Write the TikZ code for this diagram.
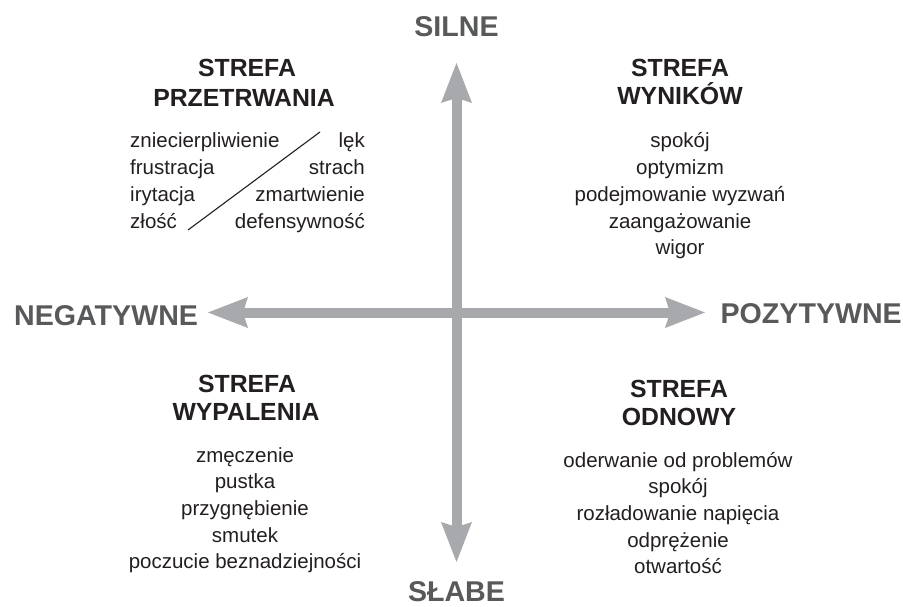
\documentclass[tikz,border=0pt]{standalone}
\usepackage{fontspec}
\setmainfont{Liberation Sans}
\usetikzlibrary{arrows.meta}
\definecolor{axisgray}{HTML}{A7A9AC}
\definecolor{labelgray}{HTML}{58595B}
\definecolor{ink}{HTML}{231F20}
\begin{document}
\begin{tikzpicture}[x=1pt,y=-1pt,
  axislabel/.style={font=\fontsize{28.6}{30}\selectfont\bfseries, text=labelgray, inner sep=0pt, anchor=base},
  zonetitle/.style={font=\fontsize{24.8}{26}\selectfont\bfseries, text=ink, inner sep=0pt, anchor=base},
  zoneitem/.style={font=\fontsize{20.5}{24}\selectfont, text=ink, inner sep=0pt, anchor=base},
  axisarrow/.style={draw=axisgray, line width=10pt, {Stealth[length=40pt,width=31pt,inset=5pt,line width=0pt]}-{Stealth[length=40pt,width=31pt,inset=5pt,line width=0pt]}},
  slash/.style={draw=ink, line width=1.1pt}]
\useasboundingbox (0,0) rectangle (903,607);
\fill[white] (0,0) rectangle (903,607);

% axes
\coordinate (top) at (456.5,63);
\coordinate (bottom) at (456.5,562);
\coordinate (left) at (208,312.5);
\coordinate (right) at (705,312.5);
\draw[axisarrow] (left) -- (right);
\draw[axisarrow] (bottom) -- (top);

% axis labels
\node[axislabel] (silne) at (456.5,37) {SILNE};
\node[axislabel] (slabe) at (456.5,601) {SŁABE};
\node[axislabel, anchor=base west] (neg) at (14,325) {NEGATYWNE};
\node[axislabel, anchor=base east] (poz) at (902,323) {POZYTYWNE};

% zone titles
\node[zonetitle] (tl1) at (247,77) {STREFA};
\node[zonetitle] (tl2) at (244,107) {PRZETRWANIA};
\node[zonetitle] (tr1) at (680,77) {STREFA};
\node[zonetitle] (tr2) at (680,105) {WYNIKÓW};
\node[zonetitle] (bl1) at (247,392) {STREFA};
\node[zonetitle] (bl2) at (246,420) {WYPALENIA};
\node[zonetitle] (br1) at (679,397) {STREFA};
\node[zonetitle] (br2) at (679,425) {ODNOWY};

% top-left: two columns
\foreach \t [count=\i from 0] in {zniecierpliwienie, frustracja, irytacja, złość}
  \node[zoneitem, anchor=base west] (prl\i) at (130,148+26.67*\i) {\t};
\foreach \t [count=\i from 0] in {lęk, strach, zmartwienie, defensywność}
  \node[zoneitem, anchor=base east] (prr\i) at (365,148+26.67*\i) {\t};
\coordinate (d1) at (188,230);
\coordinate (d2) at (320,132);
\draw[slash] (d1) -- (d2);

% top-right
\foreach \t [count=\i from 0] in {spokój, optymizm, podejmowanie wyzwań, zaangażowanie, wigor}
  \node[zoneitem] (wyn\i) at (680,148+26.67*\i) {\t};

% bottom-left
\foreach \t [count=\i from 0] in {zmęczenie, pustka, przygnębienie, smutek, poczucie beznadziejności}
  \node[zoneitem] (wyp\i) at (245,462+26.67*\i) {\t};

% bottom-right
\foreach \t [count=\i from 0] in {oderwanie od problemów, spokój, rozładowanie napięcia, odprężenie, otwartość}
  \node[zoneitem] (odn\i) at (678,467+26.67*\i) {\t};
\end{tikzpicture}
\end{document}
